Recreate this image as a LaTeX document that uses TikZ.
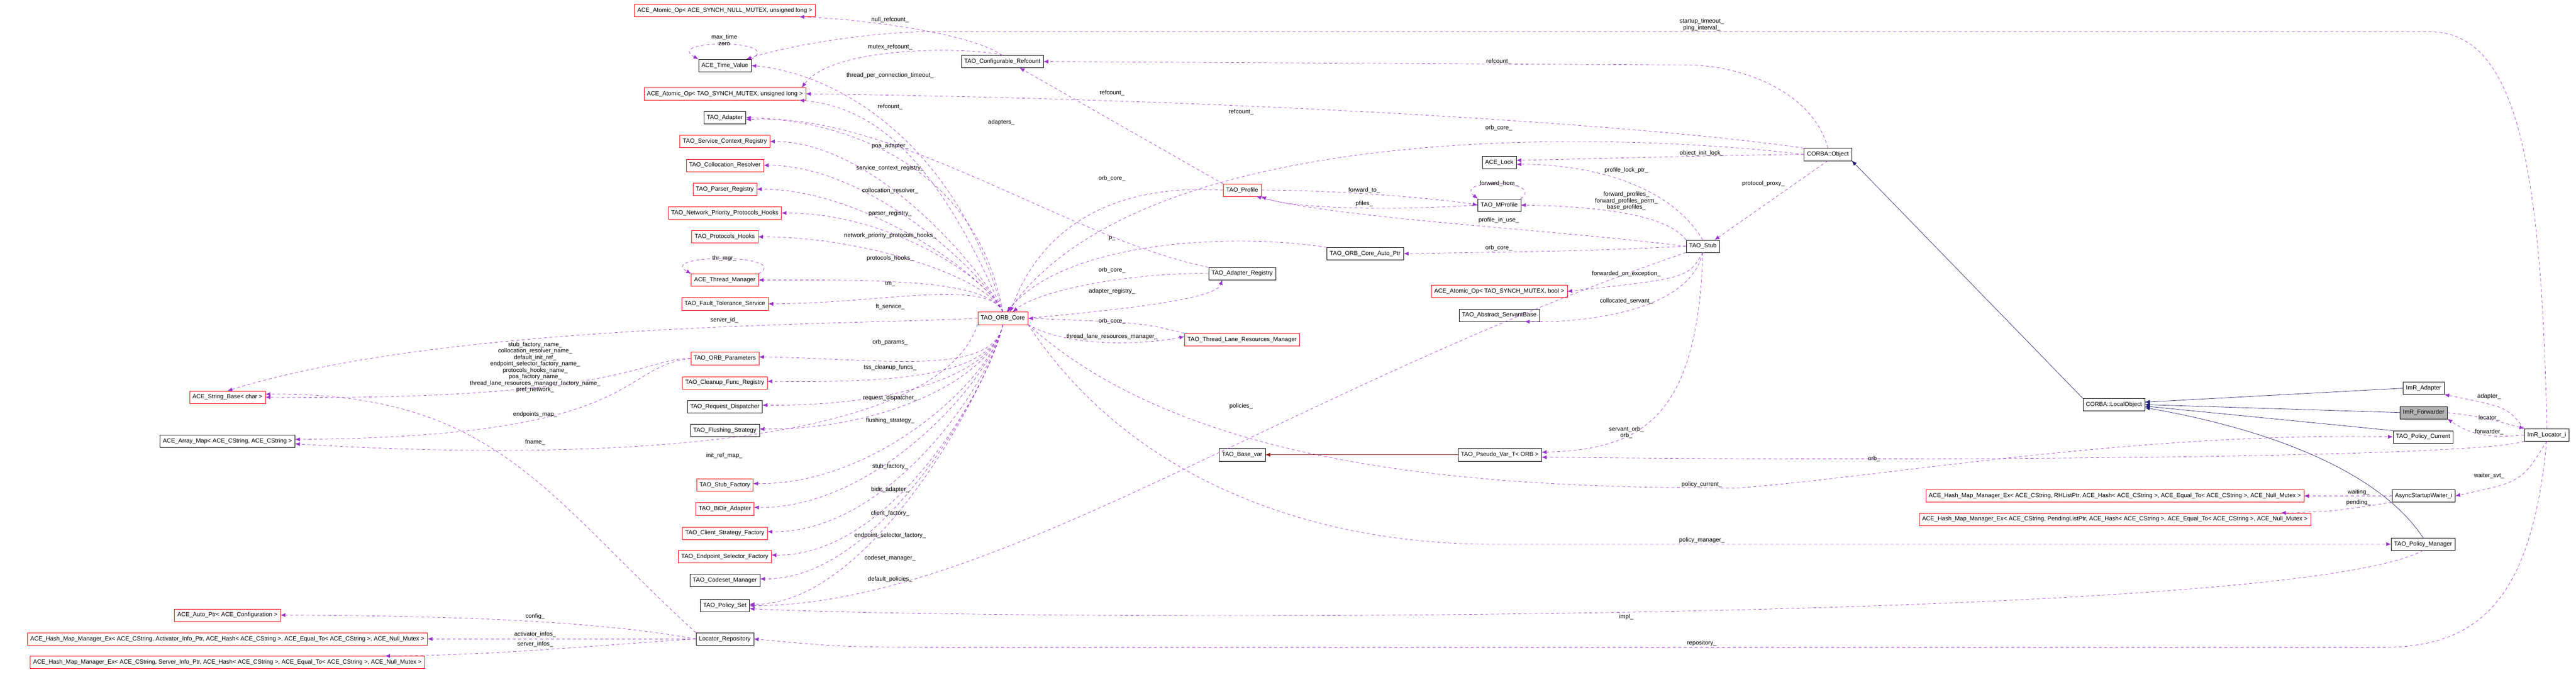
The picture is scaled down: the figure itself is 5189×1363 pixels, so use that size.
\documentclass[tikz,border=0pt]{standalone}
\usepackage{fontspec}
\setmainfont{Liberation Sans}
\usetikzlibrary{arrows.meta}
\definecolor{mem}{HTML}{9A32CD}
\definecolor{inh}{HTML}{191970}
\definecolor{tpl}{HTML}{8B1A1A}
\tikzset{
 box/.style={draw=black,fill=white,minimum height=25pt,inner xsep=6pt,inner ysep=2pt,font=\fontsize{12}{13}\selectfont},
 rbox/.style={box,draw=red},
 gbox/.style={box,fill=gray!60},
 lbl/.style={font=\fontsize{12}{13}\selectfont,inner sep=0pt,align=center},
 memb/.style={draw=mem,dashed,dash pattern=on 6pt off 5pt,line width=0.7pt,-{Latex[length=10pt,width=8pt]}},
 inhb/.style={draw=inh,line width=0.7pt,-{Latex[length=10pt,width=8pt]}},
 tplb/.style={draw=tpl,line width=0.7pt,-{Latex[length=10pt,width=8pt]}},
}
\begin{document}
\begin{tikzpicture}[x=1pt,y=-1pt]
\useasboundingbox (0,0) rectangle (5189,1363);
% nodes
\node[rbox] (anull) at (1460,21) {ACE\_Atomic\_Op< ACE\_SYNCH\_NULL\_MUTEX, unsigned long >};
\node[box] (tv) at (1460,132) {ACE\_Time\_Value};
\node[rbox] (asm) at (1460,189) {ACE\_Atomic\_Op< TAO\_SYNCH\_MUTEX, unsigned long >};
\node[box] (cref) at (2019,124) {TAO\_Configurable\_Refcount};
\node[box] (tada) at (1460,237) {TAO\_Adapter};
\node[rbox] (scr) at (1460,285) {TAO\_Service\_Context\_Registry};
\node[rbox] (cres) at (1460,333) {TAO\_Collocation\_Resolver};
\node[rbox] (preg) at (1460,381) {TAO\_Parser\_Registry};
\node[rbox] (nph) at (1460,429) {TAO\_Network\_Priority\_Protocols\_Hooks};
\node[rbox] (phk) at (1460,477) {TAO\_Protocols\_Hooks};
\node[rbox] (thm) at (1460,564) {ACE\_Thread\_Manager};
\node[rbox] (fts) at (1460,612) {TAO\_Fault\_Tolerance\_Service};
\node[rbox] (core) at (2020,641) {TAO\_ORB\_Core};
\node[rbox] (prof) at (2502,383) {TAO\_Profile};
\node[box] (areg) at (2502,551) {TAO\_Adapter\_Registry};
\node[rbox] (tlr) at (2502,684) {TAO\_Thread\_Lane\_Resources\_Manager};
\node[rbox] (opar) at (1460,722) {TAO\_ORB\_Parameters};
\node[rbox] (cfr) at (1460,771) {TAO\_Cleanup\_Func\_Registry};
\node[box] (rdisp) at (1460,819) {TAO\_Request\_Dispatcher};
\node[box] (fls) at (1460,867) {TAO\_Flushing\_Strategy};
\node[rbox] (sfac) at (1460,977) {TAO\_Stub\_Factory};
\node[rbox] (bidir) at (1460,1025) {TAO\_BiDir\_Adapter};
\node[rbox] (csf) at (1460,1074) {TAO\_Client\_Strategy\_Factory};
\node[rbox] (esf) at (1460,1121) {TAO\_Endpoint\_Selector\_Factory};
\node[box] (csm) at (1460,1169) {TAO\_Codeset\_Manager};
\node[box] (pset) at (1460,1220) {TAO\_Policy\_Set};
\node[box] (lrep) at (1460,1287) {Locator\_Repository};
\node[box] (bvar) at (2502,916) {TAO\_Base\_var};
\node[rbox] (sbase) at (458,800) {ACE\_String\_Base< char >};
\node[box] (amap) at (458,889) {ACE\_Array\_Map< ACE\_CString, ACE\_CString >};
\node[rbox] (aptr) at (458,1239) {ACE\_Auto\_Ptr< ACE\_Configuration >};
\node[rbox] (hact) at (458,1287) {ACE\_Hash\_Map\_Manager\_Ex< ACE\_CString, Activator\_Info\_Ptr, ACE\_Hash< ACE\_CString >, ACE\_Equal\_To< ACE\_CString >, ACE\_Null\_Mutex >};
\node[rbox] (hsrv) at (458,1334) {ACE\_Hash\_Map\_Manager\_Ex< ACE\_CString, Server\_Info\_Ptr, ACE\_Hash< ACE\_CString >, ACE\_Equal\_To< ACE\_CString >, ACE\_Null\_Mutex >};
\node[box] (lock) at (3020,327) {ACE\_Lock};
\node[box] (mprof) at (3020,413) {TAO\_MProfile};
\node[box] (cobj) at (3682,311) {CORBA::Object};
\node[box] (stub) at (3430,496) {TAO\_Stub};
\node[box] (cap) at (2750,511) {TAO\_ORB\_Core\_Auto\_Ptr};
\node[rbox] (abool) at (3020,587) {ACE\_Atomic\_Op< TAO\_SYNCH\_MUTEX, bool >};
\node[box] (asb) at (3020,635) {TAO\_Abstract\_ServantBase};
\node[box] (pvar) at (3021,916) {TAO\_Pseudo\_Var\_T< ORB >};
\node[rbox] (hrh) at (4260,999) {ACE\_Hash\_Map\_Manager\_Ex< ACE\_CString, RHListPtr, ACE\_Hash< ACE\_CString >, ACE\_Equal\_To< ACE\_CString >, ACE\_Null\_Mutex >};
\node[rbox] (hpend) at (4260,1046) {ACE\_Hash\_Map\_Manager\_Ex< ACE\_CString, PendingListPtr, ACE\_Hash< ACE\_CString >, ACE\_Equal\_To< ACE\_CString >, ACE\_Null\_Mutex >};
\node[box] (lobj) at (4258,815) {CORBA::LocalObject};
\node[box] (imad) at (4882,782) {ImR\_Adapter};
\node[gbox] (imfw) at (4882,831) {ImR\_Forwarder};
\node[box] (pcur) at (4881,880) {TAO\_Policy\_Current};
\node[box] (loc) at (5130,876) {ImR\_Locator\_i};
\node[box] (asw) at (4882,999) {AsyncStartupWaiter\_i};
\node[box] (pman) at (4881,1096) {TAO\_Policy\_Manager};
% edges
\draw[memb] (cref.north) .. controls (1960,70) and (1760,40) .. ([xshift=150]anull.south);
\draw[memb] (cref.north) .. controls (1960,95) and (1680,90) .. ([xshift=155]asm.north);
\draw[memb] (tv.north east) .. controls +(70,-40) and +(-70,-40) .. (tv.north west);
\draw[memb] (loc.north) .. controls (5120,300) and (5060,70) .. (4900,64) -- (1850,64) .. controls (1700,70) and (1560,100) .. ([xshift=-10]tv.north east);
\draw[memb] (core.north) .. controls (1930,300) and (1700,150) .. (tv.east);
\draw[memb] (core.north) .. controls (1880,300) and (1750,215) .. ([xshift=150]asm.south);
\draw[memb] (cobj.north west) .. controls (3300,250) and (2500,200) .. (asm.east);
\draw[memb] (cobj.north) .. controls (3650,180) and (3500,131) .. (3400,131) -- (cref.east);
\draw[memb] (prof.north west) -- ([xshift=35]cref.south);
\draw[memb] (core.north) .. controls (1960,300) and (1650,240) .. (tada.east);
\draw[memb] (areg.north west) .. controls (2150,480) and (1800,225) .. ([yshift=-4]tada.east);
\foreach \t in {scr,cres,preg,nph,phk,thm,fts}{\draw[memb] (core.north) .. controls (1990,560) and ([xshift=220]\t.east) .. (\t.east);}
\draw[memb] (thm.north east) .. controls +(70,-40) and +(-70,-40) .. (thm.north west);
\draw[memb] (core.west) .. controls (1700,655) and (900,650) .. (sbase.north);
\draw[memb] (opar.west) .. controls (1300,720) and (1250,808) .. (sbase.east);
\draw[memb] (opar.west) .. controls (1240,740) and (1300,880) .. ([yshift=4]amap.east);
\draw[memb] (lrep.north west) .. controls (1100,1000) and (1000,790) .. ([yshift=6]sbase.east);
\draw[memb] (core.south west) .. controls (1880,920) and (1100,925) .. ([yshift=-5]amap.east);
\foreach \t in {opar,cfr,rdisp,fls,sfac,bidir,csf,esf,csm,pset}{\draw[memb] (core.south) .. controls (2000,760) and ([xshift=250]\t.east) .. ([yshift=3]\t.east);}
\draw[memb] (stub.south west) .. controls (2600,780) and (2000,1220) .. (pset.east);
\draw[memb] (pman.south) .. controls (4600,1260) and (2000,1250) .. ([yshift=-6]pset.east);
\draw[memb] (loc.south) .. controls (5100,1200) and (5000,1304) .. (4800,1304) -- (2000,1304) .. controls (1700,1304) .. (lrep.east);
\draw[memb] (lrep.west) .. controls (1200,1250) and (900,1240) .. (aptr.east);
\draw[memb] (lrep.west) -- (hact.east);
\draw[memb] (lrep.west) .. controls (1200,1300) and (1000,1320) .. ([xshift=-80]hsrv.north east);
\draw[memb] (prof.west) .. controls (2250,370) and (2100,450) .. ([xshift=15]core.north);
\draw[memb] (areg.west) .. controls (2300,548) and (2100,580) .. ([xshift=20]core.north);
\draw[memb] (core.east) .. controls (2300,620) and (2450,600) .. ([xshift=-40]areg.south);
\draw[memb] (tlr.north west) .. controls (2300,650) .. (core.east);
\draw[memb] (core.south east) .. controls (2150,700) and (2300,695) .. ([yshift=6]tlr.west);
\draw[memb] (cap.north west) .. controls (2500,470) and (2150,480) .. ([xshift=8]core.north);
\draw[memb] (cobj.west) .. controls (3200,260) and (2300,250) .. ([xshift=10]core.north);
\draw[memb] (stub.west) .. controls (3200,505) .. (cap.east);
\draw[memb] (prof.east) .. controls (2700,383) and (2900,400) .. (mprof.west);
\draw[memb] (mprof.west) .. controls (2800,425) and (2600,420) .. (prof.south east);
\draw[memb] (mprof.north east) .. controls +(50,-40) and +(-50,-40) .. (mprof.north west);
\draw[memb] (stub.west) .. controls (3100,460) and (2700,440) .. ([xshift=-10]prof.south east);
\draw[memb] (stub.north west) .. controls (3350,420) and (3150,415) .. (mprof.east);
\draw[memb] (stub.north) .. controls (3350,350) and (3150,330) .. ([yshift=-4]lock.east);
\draw[memb] (cobj.west) .. controls (3500,312) and (3200,320) .. ([yshift=4]lock.east);
\draw[memb] (cobj.south) -- ([xshift=-10]stub.north east);
\draw[memb] (stub.south) .. controls (3400,560) .. (abool.east);
\draw[memb] (stub.south) .. controls (3400,640) and (3150,650) .. ([xshift=-30]asb.south east);
\draw[memb] (stub.south) .. controls (3420,850) and (3300,905) .. ([yshift=5]pvar.east);
\draw[memb] (loc.south west) .. controls (5000,920) and (4000,930) .. ([yshift=-5]pvar.east);
\draw[tplb] (pvar.west) -- (bvar.east);
\draw[memb] (core.south east) .. controls (2400,950) and (3000,983) .. (3500,983) .. controls (3800,960) and (4300,870) .. (pcur.west);
\draw[memb] (core.south east) .. controls (2300,1000) and (2700,1096) .. (3000,1096) -- (pman.west);
\draw[inhb] (lobj.north west) -- (cobj.south east);
\draw[inhb] (imad.west) -- ([yshift=5]lobj.east);
\draw[inhb] (imfw.west) -- (lobj.east);
\draw[inhb] (pcur.north west) -- ([yshift=-3]lobj.east);
\draw[inhb] (pman.north) .. controls (4800,960) and (4600,870) .. ([yshift=-6]lobj.east);
\draw[memb] (loc.north west) .. controls (5050,820) .. (imad.south east);
\draw[memb] (imfw.east) .. controls (5000,840) .. (loc.north west);
\draw[memb] (loc.west) .. controls (5000,885) and (4970,870) .. (imfw.south east);
\draw[memb] (loc.south) .. controls (5080,970) .. (asw.east);
\draw[memb] (asw.west) -- (hrh.east);
\draw[memb] (asw.south west) .. controls (4700,1030) .. ([xshift=-60]hpend.north east);
% labels
\node[lbl] (l1) at (1793,40) {null\_refcount\_};
\node[lbl] (l2) at (1459,81) {max\_time\\zero};
\node[lbl] (l3) at (1793,95) {mutex\_refcount\_};
\node[lbl] (l4) at (1793,152) {thread\_per\_connection\_timeout\_};
\node[lbl] (l5) at (1793,215) {refcount\_};
\node[lbl] (l6) at (2240,187) {refcount\_};
\node[lbl] (l7) at (2500,226) {refcount\_};
\node[lbl] (l8) at (2017,246) {adapters\_};
\node[lbl] (l9) at (1793,294) {poa\_adapter\_};
\node[lbl] (l10) at (1793,339) {service\_context\_registry\_};
\node[lbl] (l11) at (1793,384) {collocation\_resolver\_};
\node[lbl] (l12) at (1793,430) {parser\_registry\_};
\node[lbl] (l13) at (1793,475) {network\_priority\_protocols\_hooks\_};
\node[lbl] (l14) at (1793,520) {protocols\_hooks\_};
\node[lbl] (l15) at (1459,520) {thr\_mgr\_};
\node[lbl] (l16) at (1793,572) {tm\_};
\node[lbl] (l17) at (1793,618) {ft\_service\_};
\node[lbl] (l18) at (1459,645) {server\_id\_};
\node[lbl] (l19) at (2240,360) {orb\_core\_};
\node[lbl] (l20) at (2240,480) {p\_};
\node[lbl] (l21) at (2240,544) {orb\_core\_};
\node[lbl] (l22) at (2240,587) {adapter\_registry\_};
\node[lbl] (l23) at (2240,647) {orb\_core\_};
\node[lbl] (l24) at (2240,678) {thread\_lane\_resources\_manager\_};
\node[lbl] (l25) at (1793,690) {orb\_params\_};
\node[lbl] (l26) at (1793,740) {tss\_cleanup\_funcs\_};
\node[lbl] (l27) at (1793,802) {request\_dispatcher\_};
\node[lbl] (l28) at (1793,847) {flushing\_strategy\_};
\node[lbl] (l29) at (1459,918) {init\_ref\_map\_};
\node[lbl] (l30) at (1793,940) {stub\_factory\_};
\node[lbl] (l31) at (1793,986) {bidir\_adapter\_};
\node[lbl] (l32) at (1793,1034) {client\_factory\_};
\node[lbl] (l33) at (1793,1079) {endpoint\_selector\_factory\_};
\node[lbl] (l34) at (1793,1124) {codeset\_manager\_};
\node[lbl] (l35) at (1793,1167) {default\_policies\_};
\node[lbl] (l36) at (2500,818) {policies\_};
\node[lbl] (l37) at (1078,740) {stub\_factory\_name\_\\collocation\_resolver\_name\_\\default\_init\_ref\_\\endpoint\_selector\_factory\_name\_\\protocols\_hooks\_name\_\\poa\_factory\_name\_\\thread\_lane\_resources\_manager\_factory\_name\_\\pref\_network\_};
\node[lbl] (l38) at (1078,835) {endpoints\_map\_};
\node[lbl] (l39) at (1078,891) {fname\_};
\node[lbl] (l40) at (1078,1242) {config\_};
\node[lbl] (l41) at (1078,1278) {activator\_infos\_};
\node[lbl] (l42) at (1078,1298) {server\_infos\_};
\node[lbl] (l43) at (3428,50) {startup\_timeout\_\\ping\_interval\_};
\node[lbl] (l44) at (3019,124) {refcount\_};
\node[lbl] (l45) at (3019,258) {orb\_core\_};
\node[lbl] (l46) at (3428,309) {object\_init\_lock\_};
\node[lbl] (l47) at (3276,343) {profile\_lock\_ptr\_};
\node[lbl] (l48) at (3019,370) {forward\_from\_};
\node[lbl] (l49) at (2748,383) {forward\_to\_};
\node[lbl] (l50) at (2748,410) {pfiles\_};
\node[lbl] (l51) at (3276,405) {forward\_profiles\_\\forward\_profiles\_perm\_\\base\_profiles\_};
\node[lbl] (l52) at (3552,370) {protocol\_proxy\_};
\node[lbl] (l53) at (3019,444) {profile\_in\_use\_};
\node[lbl] (l54) at (3019,500) {orb\_core\_};
\node[lbl] (l55) at (3276,552) {forwarded\_on\_exception\_};
\node[lbl] (l56) at (3276,607) {collocated\_servant\_};
\node[lbl] (l57) at (3276,871) {servant\_orb\_\\orb\_};
\node[lbl] (l58) at (3775,924) {orb\_};
\node[lbl] (l59) at (3428,976) {policy\_current\_};
\node[lbl] (l60) at (3428,1088) {policy\_manager\_};
\node[lbl] (l61) at (3276,1243) {impl\_};
\node[lbl] (l62) at (3428,1296) {repository\_};
\node[lbl] (l63) at (5014,799) {adapter\_};
\node[lbl] (l64) at (5014,842) {locator\_};
\node[lbl] (l65) at (5014,870) {forwarder\_};
\node[lbl] (l66) at (5014,958) {waiter\_svt\_};
\node[lbl] (l67) at (4751,992) {waiting\_};
\node[lbl] (l68) at (4751,1012) {pending\_};
\end{tikzpicture}
\end{document}
